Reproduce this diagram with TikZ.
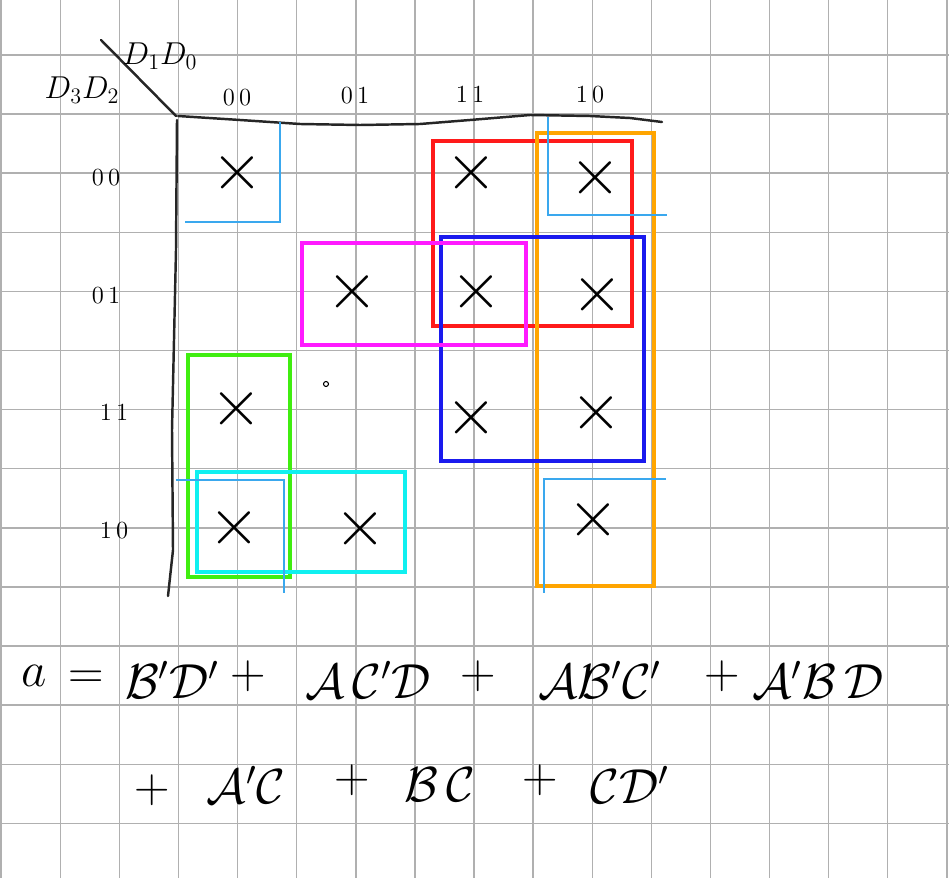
\RequirePackage{fix-cm}
\documentclass[tikz,border=0pt]{standalone}
\usepackage{xcolor}
\usepackage{tikz}
\usetikzlibrary{positioning}

\definecolor{gridgray}{HTML}{B0B0B0}
\definecolor{skyline}{HTML}{3AA8EE}
\definecolor{loopred}{HTML}{FF1A1A}
\definecolor{looporange}{HTML}{FFA500}
\definecolor{loopblue}{HTML}{1A1AEE}
\definecolor{loopmag}{HTML}{FF1AFF}
\definecolor{loopgreen}{HTML}{40EE10}
\definecolor{loopcyan}{HTML}{10F0F0}

\begin{document}
\begin{tikzpicture}[
    x=0.02cm, y=-0.02cm,
    pen/.style={line width=1.4pt, black!85, line cap=round, line join=round},
    loopbox/.style={line width=1.8pt},
    corner/.style={line width=1.1pt, skyline},
    xmk/.style={inner sep=0pt, font=\fontsize{38}{38}\selectfont},
    bit/.style={inner sep=1pt, font=\fontsize{14}{16}\selectfont},
    var/.style={inner sep=1pt, font=\fontsize{18}{20}\selectfont},
    term/.style={inner sep=1pt, font=\fontsize{28}{32}\selectfont}
]
    \useasboundingbox (0,0) rectangle (949,878);

    % Grid paper
    \foreach \k in {0,...,16}
        \draw[gridgray, line width=0.8pt] ({1.2+59.1*\k},0) -- ({1.2+59.1*\k},878);
    \foreach \k in {0,...,13}
        \draw[gridgray, line width=0.8pt] (0,{55+59.1*\k}) -- (949,{55+59.1*\k});

    % Map frame
    \draw[pen] (101,40) -- (176,116);
    \draw[pen] (178,116) -- (240,120) -- (300,124) -- (360,125) -- (420,124)
        -- (470,120) -- (530,115) -- (590,116) -- (630,118) -- (662,122);
    \draw[pen] (177,120) -- (176,250) -- (174,340) -- (172,430) -- (173,550) -- (168,596);

    % Variables
    \node[var] (colvar) at (160,56) {$D_1D_0$};
    \node[var] (rowvar) at (82,90) {$D_3D_2$};

    % Column labels
    \node[bit] (c00) at (237,98) {$0\,0$};
    \node[bit] (c01) at (355,96) {$0\,1$};
    \node[bit] (c11) at (470,95) {$1\,1$};
    \node[bit] (c10) at (590,95) {$1\,0$};

    % Row labels
    \node[bit] (r00) at (106,178) {$0\,0$};
    \node[bit] (r01) at (106,296) {$0\,1$};
    \node[bit] (r11) at (114,413) {$1\,1$};
    \node[bit] (r10) at (114,531) {$1\,0$};

    % Marks
    \node[xmk] (m0) at (237,173) {$\times$};
    \node[xmk] (m3) at (471,173) {$\times$};
    \node[xmk] (m2) at (595,178) {$\times$};
    \node[xmk] (m5) at (352,292) {$\times$};
    \node[xmk] (m7) at (476,292) {$\times$};
    \node[xmk] (m6) at (597,295) {$\times$};
    \node[xmk] (m12) at (236,409) {$\times$};
    \node[xmk] (m15) at (471,418) {$\times$};
    \node[xmk] (m14) at (596,413) {$\times$};
    \node[xmk] (m8) at (234,528) {$\times$};
    \node[xmk] (m9) at (360,529) {$\times$};
    \node[xmk] (m10) at (593,520) {$\times$};

    % Loops
    \draw[loopbox, loopred] (433,141) rectangle (632,326);
    \draw[loopbox, looporange] (537,133) rectangle (654,586);
    \draw[loopbox, loopblue] (441,237) rectangle (644,461);
    \draw[loopbox, loopmag] (302,243) rectangle (526,345);
    \draw[loopbox, loopgreen] (188,355) rectangle (290,577);
    \draw[loopbox, loopcyan] (197,472) rectangle (405,572);

    % Corner group
    \draw[corner] (280,122) -- (280,222) -- (185,222);
    \draw[corner] (548,117) -- (548,215) -- (667,215);
    \draw[corner] (176,480) -- (284,480) -- (284,593);
    \draw[corner] (666,479) -- (544,479) -- (544,593);

    \draw[line width=0.6pt] (326,384) circle (2.5);

    % Expression
    \node[term] (lhs) at (34,676) {$a$};
    \node[term] (eq) at (86,680) {$=$};
    \node[term] (t1) at (172,680) {$\mathcal{B}'\mathcal{D}'$};
    \node[term] (p1) at (248,676) {$+$};
    \node[term] (t2) at (368,680) {$\mathcal{A}\,\mathcal{C}'\mathcal{D}$};
    \node[term] (p2) at (478,676) {$+$};
    \node[term] (t3) at (600,680) {$\mathcal{A}\mathcal{B}'\mathcal{C}'$};
    \node[term] (p3) at (722,676) {$+$};
    \node[term] (t4) at (818,680) {$\mathcal{A}'\mathcal{B}\,\mathcal{D}$};

    \node[term] (p4) at (152,790) {$+$};
    \node[term] (t5) at (246,785) {$\mathcal{A}'\mathcal{C}$};
    \node[term] (p5) at (352,780) {$+$};
    \node[term] (t6) at (440,785) {$\mathcal{B}\,\mathcal{C}$};
    \node[term] (p6) at (540,780) {$+$};
    \node[term] (t7) at (630,785) {$\mathcal{C}\mathcal{D}'$};
\end{tikzpicture}
\end{document}
